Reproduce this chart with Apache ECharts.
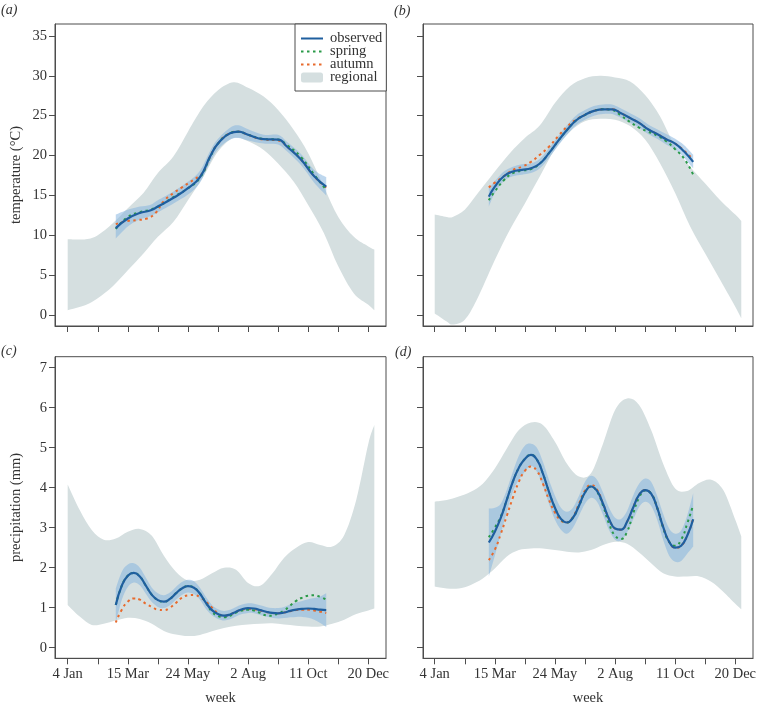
<!DOCTYPE html>
<html><head><meta charset="utf-8">
<script src="https://cdn.jsdelivr.net/npm/echarts@6/dist/echarts.min.js"></script>
<style>html,body{margin:0;padding:0;background:#fff}#c{width:758px;height:705px}</style>
</head><body><div id="c"></div><script>
// ---------- axes ----------
const weekTicks = [1,6,11,16,21,26,31,36,41,46,51];
const weekLabelWeeks = [1,11,21,31,41,51];
const weekLabels = ['4 Jan','15 Mar','24 May','2 Aug','11 Oct','20 Dec'];
const tempTicks = [0,5,10,15,20,25,30,35];
const precTicks = [0,1,2,3,4,5,6,7];

// ---------- (a) temperature, site 1 ----------
const regWeeksA = [1,4,6,8.5,11,13.6,16,18.6,21,23.6,26,28.6,31,33.6,36,38.6,41,43.6,46,48.6,51,52];
const regUpperA = [9.5,9.5,10.0,11.5,13.4,15.3,17.8,19.9,23.0,26.2,28.2,29.2,28.5,27.4,25.7,23.2,20.3,16.1,12.3,9.8,8.6,8.2];
const regLowerA = [0.6,1.25,2.1,3.6,5.6,7.7,9.8,11.7,14.4,17.4,20.5,22.2,21.8,20.7,19.0,16.7,13.8,10.3,6.1,2.7,1.3,0.6];
const obsWeeksA = [9,11,13,14.7,16,18.6,21,23,24.7,26,28,29.4,31,33.6,36,37.5,39.8,42,44];
const obsA      = [10.9,12.1,12.8,13.1,13.6,14.7,15.9,17.3,19.9,21.5,22.8,23.0,22.6,22.05,22.0,21.1,19.5,17.4,16.1];
const ciUpperA  = [12.6,13.2,13.6,13.8,14.4,15.5,16.7,18.1,20.6,22.1,23.5,23.8,23.3,22.6,22.6,21.7,20.2,18.2,17.3];
const ciLowerA  = [9.6,11.1,12.0,12.4,12.9,14.0,15.1,16.6,19.2,20.8,22.0,22.2,21.9,21.5,21.4,20.5,18.8,16.6,15.0];
const springA   = [10.8,12.3,12.9,13.2,13.6,14.8,15.9,17.2,19.8,21.5,22.8,23.0,22.6,22.1,22.0,21.3,19.8,17.6,15.7];
const autumnWeeksA = [9,11,12.5,14.2,15.6,17,18.6,20,21.4,22.8,23.6,24.7,26,28,29.4,31,33.6,36,37.5,39.8,42,44];
const autumnA      = [11.4,11.8,11.9,12.1,12.8,14.3,15.3,16.0,16.7,17.4,18.0,19.9,21.5,22.8,23.0,22.6,22.0,21.9,21.1,19.5,17.4,16.0];

// ---------- (b) temperature, site 2 ----------
const regWeeksB = [1,3,4,6,8,11,13.5,16,18.5,21,23.5,26,28.5,31,33.5,36,38.5,41,43.5,46,48.5,51,52];
const regUpperB = [12.6,12.3,12.3,13.2,15.1,18.0,20.3,22.2,23.8,26.6,28.7,29.7,30.0,29.8,29.3,27.6,24.9,21.1,18.6,16.5,14.4,12.6,11.8];
const regLowerB = [0.2,-0.8,-1.2,-0.6,1.9,6.9,10.7,14.0,17.4,20.8,23.0,24.3,24.6,24.5,23.7,22.0,19.0,15.3,11.1,7.7,4.4,1.05,-0.4];
const obsWeeksB = [10,11,12.5,14,15.5,17,18.5,20,21.5,23,24.5,26,27.5,29,30.5,32,33.5,35,36.5,38,39.5,41,42.5,44];
const obsB      = [14.85,16.1,17.4,18.0,18.2,18.4,19.0,20.3,21.8,23.2,24.4,25.1,25.6,25.8,25.8,25.3,24.7,24.1,23.3,22.7,22.05,21.5,20.5,19.2];
const ciUpperB  = [15.9,16.8,18.0,18.6,18.9,19.0,19.6,20.9,22.4,23.8,25.0,25.7,26.2,26.4,26.4,25.9,25.3,24.7,23.9,23.3,22.7,22.1,21.3,20.1];
const ciLowerB  = [13.6,15.3,16.8,17.4,17.6,17.8,18.4,19.7,21.2,22.6,23.8,24.5,25.0,25.2,25.2,24.7,24.1,23.5,22.7,22.1,21.4,20.8,19.7,18.4];
const springB   = [14.4,15.5,16.9,17.8,18.1,18.3,19.0,20.3,21.8,23.2,24.4,25.1,25.6,25.8,25.7,25.0,24.2,23.5,23.0,22.5,21.8,20.8,19.6,17.6];
const autumnB   = [16.0,16.6,17.4,18.2,18.6,19.2,20.1,21.1,22.4,23.6,24.5,25.1,25.6,25.8,25.8,25.3,24.7,24.1,23.3,22.7,22.05,21.5,20.6,19.5];

// ---------- (c) precipitation, site 1 ----------
const regWeeksC = [1,3,5,7,9,11,13,15,17,19,21,23,25,27,29,31,33,35,37,39,41,43,45,47,49,51,52];
const regUpperC = [4.08,3.44,2.94,2.7,2.73,2.9,2.97,2.8,2.3,1.9,1.68,1.7,1.86,2.0,1.95,1.62,1.55,1.85,2.25,2.5,2.64,2.57,2.53,2.82,3.7,5.1,5.57];
const regLowerC = [1.07,0.78,0.57,0.6,0.68,0.75,0.72,0.6,0.42,0.33,0.29,0.32,0.41,0.49,0.55,0.58,0.6,0.61,0.58,0.55,0.53,0.53,0.6,0.7,0.84,0.93,0.98];
const obsWeeksC = [9,10,11,12,13,14,15,16,17,18,19,20,21,22,23,24,25,26,27,28,29,30,31,32,33,34,35,36,37,38,39,40,41,42,43,44];
const obsC      = [1.07,1.55,1.8,1.87,1.78,1.55,1.32,1.19,1.15,1.22,1.36,1.48,1.54,1.5,1.35,1.12,0.94,0.84,0.8,0.83,0.9,0.96,0.99,0.98,0.94,0.9,0.87,0.86,0.88,0.92,0.95,0.97,0.98,0.97,0.95,0.94];
const ciUpperC  = [1.48,1.9,2.08,2.11,2.0,1.75,1.5,1.36,1.31,1.38,1.52,1.64,1.7,1.66,1.5,1.27,1.07,0.96,0.92,0.95,1.02,1.08,1.11,1.1,1.06,1.02,0.99,0.99,1.02,1.08,1.13,1.17,1.21,1.24,1.28,1.36];
const ciLowerC  = [0.62,1.2,1.52,1.63,1.56,1.35,1.14,1.02,0.99,1.06,1.2,1.32,1.38,1.34,1.2,0.97,0.81,0.72,0.68,0.71,0.78,0.84,0.87,0.86,0.82,0.78,0.75,0.73,0.74,0.76,0.77,0.77,0.75,0.7,0.62,0.52];
const springC   = [1.07,1.55,1.8,1.87,1.78,1.55,1.32,1.19,1.15,1.22,1.36,1.48,1.54,1.5,1.35,1.12,0.9,0.79,0.76,0.8,0.88,0.93,0.95,0.93,0.87,0.81,0.8,0.86,0.93,1.05,1.17,1.25,1.3,1.31,1.27,1.2];
const autumnC   = [0.63,0.95,1.15,1.23,1.2,1.1,1.02,0.95,0.94,1.0,1.12,1.25,1.31,1.32,1.26,1.15,1.0,0.86,0.8,0.83,0.9,0.95,0.97,0.96,0.93,0.89,0.87,0.86,0.88,0.91,0.94,0.95,0.95,0.93,0.9,0.87];

// ---------- (d) precipitation, site 2 ----------
const regWeeksD = [1,3,5,7,9,11,13,15,17,19,21,23,25,27,29,31,33,35,37,39,41,43,45,47,49,51,52];
const regUpperD = [3.65,3.69,3.78,3.9,4.1,4.48,4.98,5.44,5.63,5.57,5.15,4.6,4.28,4.36,5.1,5.94,6.23,6.07,5.44,4.6,3.98,3.92,4.12,4.2,3.94,3.2,2.78];
const regLowerD = [1.53,1.48,1.48,1.57,1.73,1.98,2.28,2.44,2.48,2.48,2.44,2.4,2.38,2.44,2.57,2.65,2.6,2.38,2.11,1.86,1.78,1.78,1.78,1.65,1.4,1.1,0.96];
const obsWeeksD = [10,11,12,13,14,15,16,17,18,19,20,21,22,23,24,25,26,27,28,29,30,31,32,33,34,35,36,37,38,39,40,41,42,43,44];
const obsD      = [2.63,2.9,3.25,3.7,4.15,4.5,4.72,4.82,4.7,4.35,3.9,3.5,3.22,3.13,3.25,3.55,3.88,4.03,3.92,3.6,3.22,2.98,2.95,3.15,3.5,3.82,3.94,3.85,3.5,3.02,2.65,2.5,2.55,2.8,3.21];
const ciUpperD  = [3.48,3.5,3.6,3.95,4.4,4.8,5.05,5.1,5.0,4.65,4.2,3.8,3.5,3.4,3.5,3.8,4.15,4.3,4.2,3.88,3.5,3.25,3.22,3.42,3.8,4.1,4.23,4.15,3.8,3.35,2.98,2.85,2.93,3.3,3.86];
const ciLowerD  = [1.78,2.3,2.85,3.4,3.9,4.2,4.4,4.55,4.4,4.05,3.6,3.2,2.95,2.85,3.0,3.3,3.6,3.75,3.65,3.32,2.94,2.7,2.68,2.88,3.2,3.52,3.65,3.55,3.2,2.7,2.3,2.15,2.17,2.35,2.53];
const springD   = [2.76,3.0,3.28,3.7,4.15,4.5,4.72,4.82,4.7,4.35,3.9,3.5,3.22,3.13,3.25,3.55,3.88,4.03,3.9,3.55,3.1,2.8,2.72,2.9,3.35,3.75,3.93,3.85,3.5,3.0,2.65,2.55,2.7,3.1,3.57];
const autumnD   = [2.19,2.45,2.85,3.3,3.75,4.15,4.42,4.53,4.42,4.1,3.7,3.38,3.18,3.13,3.27,3.6,3.93,4.07,3.95,3.6,3.22,2.98,2.95,3.15,3.5,3.82,3.94,3.85,3.5,3.02,2.65,2.5,2.55,2.8,3.23];

// ---------- styling ----------
const FONT = '"Liberation Serif","DejaVu Serif",serif';
const TXT = '#333';
const AX = '#4d4d4d';
const C_REG = '#d5dfe0';
const C_CI = 'rgba(130,178,222,0.52)';
const C_OBS = '#1f5f9f';
const C_SPR = '#2a9a48';
const C_AUT = '#e86a2c';

const panels = [
  {grid:{left:55, top:24, width:331, height:302}, xr:[-1.11,53.94], yr:[-1.38,36.5], yTicks:tempTicks, yLabels:true, xLabels:false, yName:'temperature (°C)',
   reg:[regWeeksA,regLowerA,regUpperA], obsW:obsWeeksA, obs:obsA, ciU:ciUpperA, ciL:ciLowerA, spr:[obsWeeksA,springA], aut:[autumnWeeksA,autumnA]},
  {grid:{left:423, top:24, width:330, height:302}, xr:[-0.95,53.95], yr:[-1.38,36.5], yTicks:tempTicks, yLabels:false, xLabels:false, yName:'',
   reg:[regWeeksB,regLowerB,regUpperB], obsW:obsWeeksB, obs:obsB, ciU:ciUpperB, ciL:ciLowerB, spr:[obsWeeksB,springB], aut:[obsWeeksB,autumnB]},
  {grid:{left:55, top:356.7, width:331, height:301.6}, xr:[-1.11,53.94], yr:[-0.265,7.275], yTicks:precTicks, yLabels:true, xLabels:true, yName:'precipitation (mm)',
   reg:[regWeeksC,regLowerC,regUpperC], obsW:obsWeeksC, obs:obsC, ciU:ciUpperC, ciL:ciLowerC, spr:[obsWeeksC,springC], aut:[obsWeeksC,autumnC]},
  {grid:{left:423, top:356.7, width:330, height:301.6}, xr:[-0.95,53.95], yr:[-0.265,7.275], yTicks:precTicks, yLabels:false, xLabels:true, yName:'',
   reg:[regWeeksD,regLowerD,regUpperD], obsW:obsWeeksD, obs:obsD, ciU:ciUpperD, ciL:ciLowerD, spr:[obsWeeksD,springD], aut:[obsWeeksD,autumnD]}
];

const pairs = (xs, ys) => xs.map((x, i) => [x, ys[i]]);
const triples = (xs, lo, up) => xs.map((x, i) => [x, lo[i], up[i]]);

// Catmull-Rom spline through pixel points -> SVG path commands
function splineSeg(pts, startWithMove) {
  let d = startWithMove ? ('M' + pts[0][0] + ',' + pts[0][1]) : ('L' + pts[0][0] + ',' + pts[0][1]);
  for (let i = 0; i < pts.length - 1; i++) {
    const p0 = pts[Math.max(i - 1, 0)], p1 = pts[i], p2 = pts[i + 1], p3 = pts[Math.min(i + 2, pts.length - 1)];
    const c1x = p1[0] + (p2[0] - p0[0]) / 6, c1y = p1[1] + (p2[1] - p0[1]) / 6;
    const c2x = p2[0] - (p3[0] - p1[0]) / 6, c2y = p2[1] - (p3[1] - p1[1]) / 6;
    d += 'C' + c1x + ',' + c1y + ' ' + c2x + ',' + c2y + ' ' + p2[0] + ',' + p2[1];
  }
  return d;
}

function bandSeries(k, name, data, color) {
  return {
    type:'custom', name:name, xAxisIndex:k, yAxisIndex:k, silent:true,
    itemStyle:{color:color},
    encode:{x:0, y:[1,2]},
    data:data,
    renderItem:(params, api) => {
      if (params.dataIndex !== 0) return null;
      const up = data.map(r => api.coord([r[0], r[2]]));
      const lo = data.map(r => api.coord([r[0], r[1]])).reverse();
      const d = splineSeg(up, true) + splineSeg(lo, false) + 'Z';
      const cs = params.coordSys;
      return {
        type:'path', shape:{pathData:d}, style:{fill:color, stroke:null},
        clipPath:{type:'rect', shape:{x:cs.x, y:cs.y, width:cs.width, height:cs.height}}
      };
    }
  };
}

const grids = [], xAxes = [], yAxes = [], series = [];
panels.forEach((p, k) => {
  grids.push(Object.assign({show:true, borderColor:AX, borderWidth:1, backgroundColor:'transparent', containLabel:false, outerBoundsMode:'none'}, p.grid));
  xAxes.push({
    type:'value', gridIndex:k, min:p.xr[0], max:p.xr[1],
    name: p.xLabels ? 'week' : '', nameLocation:'middle', nameGap:32,
    nameTextStyle:{fontFamily:FONT, fontSize:14.5, color:TXT},
    axisLine:{show:true, onZero:false, lineStyle:{color:AX, width:1}},
    axisTick:{show:true, length:6, inside:false, customValues:weekTicks, lineStyle:{color:AX, width:1}},
    axisLabel:{show:p.xLabels, customValues:weekLabelWeeks, margin:8, fontFamily:FONT, fontSize:14.5, color:TXT,
      formatter:(v) => weekLabels[weekLabelWeeks.indexOf(v)] || ''},
    splitLine:{show:false}
  });
  yAxes.push({
    type:'value', gridIndex:k, min:p.yr[0], max:p.yr[1],
    name:p.yName, nameLocation:'middle', nameGap:31, nameRotate:90,
    nameTextStyle:{fontFamily:FONT, fontSize:14.5, color:TXT},
    axisLine:{show:true, onZero:false, lineStyle:{color:AX, width:1}},
    axisTick:{show:true, length:6, inside:false, customValues:p.yTicks, lineStyle:{color:AX, width:1}},
    axisLabel:{show:p.yLabels, customValues:p.yTicks, margin:8, fontFamily:FONT, fontSize:14.5, color:TXT},
    splitLine:{show:false}
  });
  series.push(bandSeries(k, 'regional', triples(p.reg[0], p.reg[1], p.reg[2]), C_REG));
  series.push(bandSeries(k, 'ci', triples(p.obsW, p.ciL, p.ciU), C_CI));
  const common = {type:'line', xAxisIndex:k, yAxisIndex:k, showSymbol:false, symbol:'none', silent:true, clip:true, smooth:0.5};
  series.push(Object.assign({}, common, {name:'autumn', data:pairs(p.aut[0], p.aut[1]),
    itemStyle:{color:C_AUT}, lineStyle:{color:C_AUT, width:2, type:[2.5,3.5], cap:'butt'}}));
  series.push(Object.assign({}, common, {name:'spring', data:pairs(p.spr[0], p.spr[1]),
    itemStyle:{color:C_SPR}, lineStyle:{color:C_SPR, width:2, type:[2.5,3.5], cap:'butt'}}));
  series.push(Object.assign({}, common, {name:'observed', data:pairs(p.obsW, p.obs),
    itemStyle:{color:C_OBS}, lineStyle:{color:C_OBS, width:2.2}}));
});

const titleStyle = {fontFamily:FONT, fontStyle:'italic', fontWeight:'normal', fontSize:14, color:TXT};
const option = {
  animation:false,
  backgroundColor:'#fff',
  title:[
    {text:'(a)', left:1, top:3, padding:0, textStyle:titleStyle},
    {text:'(b)', left:394, top:4, padding:0, textStyle:titleStyle},
    {text:'(c)', left:1, top:344, padding:0, textStyle:titleStyle},
    {text:'(d)', left:395, top:345, padding:0, textStyle:titleStyle}
  ],
  legend:{
    show:true, orient:'vertical', left:295, top:24, z:10,
    padding:[7,4,6,5], itemGap:-2, itemWidth:22, itemHeight:10,
    backgroundColor:'#fff', borderColor:AX, borderWidth:1, borderRadius:0,
    selectedMode:false,
    textStyle:{fontFamily:FONT, fontSize:14.5, color:TXT, lineHeight:13, padding:[0,0,0,2]},
    data:[
      {name:'observed', itemStyle:{opacity:0}},
      {name:'spring', itemStyle:{opacity:0}},
      {name:'autumn', itemStyle:{opacity:0}},
      {name:'regional', icon:'roundRect', itemStyle:{color:C_REG}}
    ]
  },
  grid:grids, xAxis:xAxes, yAxis:yAxes, series:series
};
const chart = echarts.init(document.getElementById('c'), null, {renderer:'canvas'});
chart.setOption(option);
</script></body></html>
